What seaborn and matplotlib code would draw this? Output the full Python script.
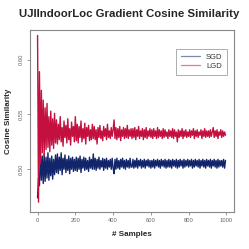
import seaborn as sns
import pandas as pd
import numpy as np
import matplotlib.pyplot as plt

# cosine similarity, one value every 5 samples
step = 5
sgd = [0.474, 0.492, 0.485, 0.516, 0.490, 0.512, 0.487, 0.514, 0.489, 0.511, 0.492, 0.515, 0.490, 0.510, 0.494, 0.512, 0.491, 0.509, 0.495, 0.513,
       0.497, 0.514, 0.496, 0.511, 0.499, 0.515, 0.495, 0.510, 0.500, 0.513, 0.497, 0.509, 0.499, 0.512, 0.496, 0.510, 0.500, 0.511, 0.498, 0.509,
       0.499, 0.511, 0.498, 0.510, 0.500, 0.512, 0.497, 0.509, 0.501, 0.511, 0.499, 0.510, 0.500, 0.508, 0.498, 0.511, 0.501, 0.509, 0.500, 0.514,
       0.500, 0.510, 0.499, 0.509, 0.501, 0.511, 0.500, 0.508, 0.502, 0.510, 0.499, 0.509, 0.501, 0.510, 0.500, 0.508, 0.502, 0.509, 0.500, 0.510,
       0.501, 0.496, 0.509, 0.500, 0.510, 0.501, 0.508, 0.500, 0.509, 0.502, 0.510, 0.501, 0.508, 0.500, 0.509, 0.502, 0.508, 0.501, 0.510, 0.502,
       0.502, 0.509, 0.501, 0.508, 0.502, 0.510, 0.501, 0.508, 0.503, 0.509, 0.501, 0.508, 0.502, 0.509, 0.501, 0.508, 0.503, 0.509, 0.502, 0.508,
       0.501, 0.508, 0.502, 0.509, 0.501, 0.508, 0.503, 0.509, 0.502, 0.508, 0.501, 0.509, 0.503, 0.508, 0.502, 0.509, 0.501, 0.508, 0.502, 0.509,
       0.502, 0.508, 0.501, 0.509, 0.503, 0.508, 0.502, 0.509, 0.501, 0.508, 0.502, 0.509, 0.503, 0.508, 0.501, 0.509, 0.502, 0.508, 0.503, 0.509,
       0.502, 0.508, 0.503, 0.509, 0.501, 0.508, 0.502, 0.509, 0.503, 0.508, 0.502, 0.509, 0.501, 0.508, 0.503, 0.509, 0.502, 0.508, 0.501, 0.509,
       0.503, 0.508, 0.502, 0.509, 0.501, 0.508, 0.503, 0.509, 0.502, 0.508, 0.501, 0.509, 0.502, 0.508, 0.503, 0.508, 0.502, 0.509, 0.501, 0.508]
lgd = [0.622, 0.470, 0.589, 0.505, 0.572, 0.515, 0.563, 0.512, 0.556, 0.518, 0.560, 0.520, 0.548, 0.516, 0.553, 0.522, 0.546, 0.519, 0.551, 0.524,
       0.545, 0.523, 0.541, 0.527, 0.548, 0.525, 0.538, 0.521, 0.544, 0.529, 0.540, 0.524, 0.546, 0.527, 0.537, 0.522, 0.543, 0.530, 0.539, 0.525,
       0.548, 0.526, 0.541, 0.524, 0.539, 0.529, 0.544, 0.525, 0.537, 0.528, 0.542, 0.523, 0.538, 0.530, 0.540, 0.526, 0.536, 0.527, 0.541, 0.528,
       0.539, 0.527, 0.536, 0.523, 0.538, 0.529, 0.540, 0.528, 0.535, 0.526, 0.539, 0.530, 0.537, 0.527, 0.541, 0.529, 0.535, 0.528, 0.538, 0.530,
       0.536, 0.545, 0.528, 0.538, 0.527, 0.537, 0.529, 0.539, 0.526, 0.536, 0.530, 0.538, 0.528, 0.537, 0.529, 0.540, 0.528, 0.536, 0.530, 0.537,
       0.528, 0.537, 0.529, 0.538, 0.527, 0.536, 0.530, 0.539, 0.528, 0.535, 0.530, 0.537, 0.527, 0.536, 0.529, 0.538, 0.528, 0.535, 0.530, 0.537,
       0.529, 0.536, 0.528, 0.537, 0.530, 0.535, 0.528, 0.538, 0.529, 0.536, 0.530, 0.535, 0.528, 0.537, 0.529, 0.536, 0.530, 0.534, 0.528, 0.536,
       0.530, 0.535, 0.529, 0.537, 0.528, 0.536, 0.530, 0.534, 0.525, 0.536, 0.529, 0.535, 0.530, 0.537, 0.528, 0.535, 0.530, 0.536, 0.529, 0.534,
       0.530, 0.536, 0.529, 0.535, 0.531, 0.537, 0.528, 0.535, 0.530, 0.536, 0.529, 0.534, 0.531, 0.536, 0.528, 0.535, 0.530, 0.537, 0.529, 0.535,
       0.530, 0.535, 0.529, 0.536, 0.530, 0.534, 0.538, 0.529, 0.535, 0.530, 0.536, 0.528, 0.534, 0.531, 0.536, 0.529, 0.535, 0.530, 0.534, 0.531]

samples = np.arange(len(sgd)) * step
df = pd.concat([
    pd.DataFrame({"# Samples": samples, "Cosine Similarity": sgd, "method": "SGD"}),
    pd.DataFrame({"# Samples": samples, "Cosine Similarity": lgd, "method": "LGD"}),
])

sns.set_style("white")
plt.rcParams['font.family'] = ['Liberation Sans', 'DejaVu Sans']

fig = plt.figure(figsize=(2.49, 2.49), dpi=100)
ax = fig.add_axes([0.1205, 0.1486, 0.8193, 0.7309])
sns.lineplot(data=df, x="# Samples", y="Cosine Similarity", hue="method",
             palette={"SGD": "#12256a", "LGD": "#c3103f"}, linewidth=1.0,
             alpha=1.0, ax=ax)

ax.set_xlim(-40, 1040)
ax.set_ylim(0.461, 0.627)
ax.set_xticks([0, 200, 400, 600, 800, 1000])
ax.set_yticks([0.50, 0.55, 0.60])
ax.set_yticklabels(["0.50", "0.55", "0.60"], rotation=90, va="center")
ax.tick_params(axis="both", direction="out", length=2.2, width=0.6,
               color="#888888", labelcolor="#666666", labelsize=4.2, pad=2,
               bottom=True, left=True)
for s in ax.spines.values():
    s.set_color("#888888")
    s.set_linewidth(0.8)

ax.set_xlabel("# Samples", fontsize=5.8, fontweight="bold", labelpad=6)
ax.set_ylabel("Cosine Similarity", fontsize=5.8, fontweight="bold", labelpad=5)
fig.suptitle("UJIIndoorLoc Gradient Cosine Similarity", fontsize=8.2,
             fontweight="bold", x=0.52, y=0.965)

leg = ax.legend(loc="upper right", bbox_to_anchor=(0.966, 0.896),
                borderaxespad=0, fontsize=5.5, frameon=True, fancybox=False,
                handlelength=2.5, labelspacing=0.25, borderpad=0.6,
                handletextpad=0.8)
leg.get_frame().set_edgecolor("#888888")
leg.get_frame().set_linewidth(0.6)
for t in leg.get_texts():
    t.set_color("#333333")
for h in leg.get_lines():
    h.set_alpha(0.55)
    h.set_linewidth(0.9)

fig.savefig("out.png", dpi=100)
